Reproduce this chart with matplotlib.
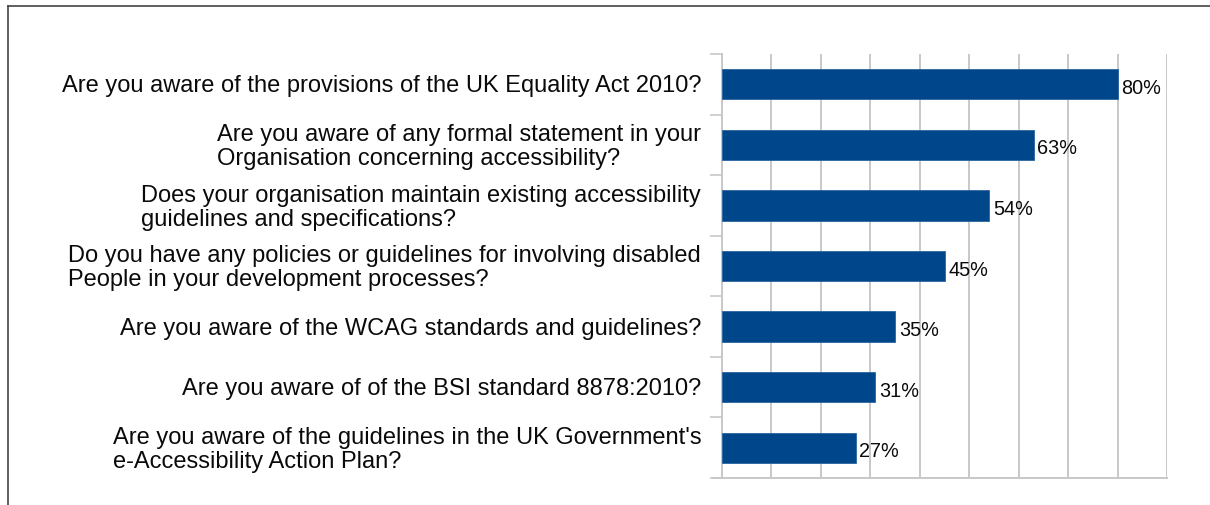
import matplotlib
matplotlib.use("Agg")
import matplotlib.pyplot as plt
from matplotlib.lines import Line2D

questions = [
    "Are you aware of the provisions of the UK Equality Act 2010?",
    "Are you aware of any formal statement in your\nOrganisation concerning accessibility?",
    "Does your organisation maintain existing accessibility\nguidelines and specifications?",
    "Do you have any policies or guidelines for involving disabled\nPeople in your development processes?",
    "Are you aware of the WCAG standards and guidelines?",
    "Are you aware of of the BSI standard 8878:2010?",
    "Are you aware of the guidelines in the UK Government's\ne-Accessibility Action Plan?",
]
values = [80, 63, 54, 45, 35, 31, 27]
value_labels = ["80%", "63%", "54%", "45%", "35%", "31%", "27%"]

plt.rcParams['font.family'] = ['Liberation Sans', 'DejaVu Sans']

W, H = 1210, 506
fig = plt.figure(figsize=(W / 100, H / 100), dpi=100)
fig.patch.set_facecolor('white')

x0, x1 = 722, 1167
y0, y1 = 55, 479
ax = fig.add_axes([x0 / W, 1 - y1 / H, (x1 - x0) / W, (y1 - y0) / H])

n = len(values)
ypos = list(range(n))
ax.barh(ypos, values, height=0.5, color='#00468B', edgecolor='#2a64a0',
        linewidth=0.6, zorder=3)
ax.set_xlim(0, 90)
ax.set_ylim(n - 0.5, -0.5)

ax.set_xticks(range(0, 91, 10))
ax.xaxis.grid(True, color='#c8c8c8', linewidth=1.4, zorder=0)
ax.tick_params(axis='x', length=0, labelbottom=False)

ax.set_yticks([i - 0.5 for i in range(n + 1)])
ax.set_yticklabels([])
ax.tick_params(axis='y', length=9, width=1.2, color='#c8c8c8', direction='out')

for s in ['top', 'right']:
    ax.spines[s].set_visible(False)
ax.spines['left'].set_color('#c8c8c8')
ax.spines['left'].set_linewidth(1.4)
ax.spines['bottom'].set_color('#c8c8c8')
ax.spines['bottom'].set_linewidth(1.4)
ax.spines['bottom'].set_bounds(-1.8, 90)
ax.spines['bottom'].set_clip_on(False)

for i, (q, v, lab) in enumerate(zip(questions, values, value_labels)):
    ax.text(v + 0.8, i + 0.05, lab, va='center', ha='left', fontsize=14.3,
            color='#0a0a0a', zorder=4)
    ax.text(-4.2, i + 0.02, q, va='center', ha='right', multialignment='left',
            fontsize=17.0, color='#0a0a0a', linespacing=1.13)

# figure frame lines (left and top)
fig.add_artist(Line2D([8 / W, 8 / W], [0, 1 - 7 / H], color='#444444', linewidth=1.2))
fig.add_artist(Line2D([8 / W, 1], [1 - 7 / H, 1 - 7 / H], color='#444444', linewidth=1.2))

fig.savefig('out.png', dpi=100)
